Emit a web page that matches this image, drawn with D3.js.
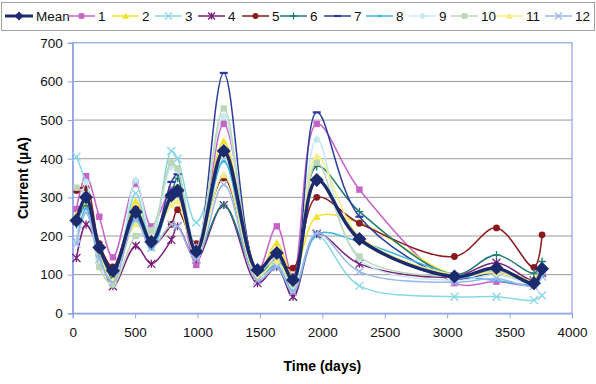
<!DOCTYPE html>
<html>
<head>
<meta charset="utf-8">
<script src="https://cdn.jsdelivr.net/npm/d3@7"></script>
<style>
  body { margin: 0; background: #fff; }
  svg { font-family: "Liberation Sans", Arial, sans-serif; }
</style>
</head>
<body>
<div class="svg-container"></div>
<script>
// measurement days shared by all series
const days = [30, 107, 213, 322, 505, 630, 790, 840, 990, 1210, 1480, 1635, 1765, 1955, 2297, 3058, 3395, 3695, 3760];

const seriesNames = ['Mean', '1', '2', '3', '4', '5', '6', '7', '8', '9', '10', '11', '12'];

const mean = [240, 300, 170, 110, 262, 185, 305, 318, 160, 420, 112, 156, 86, 345, 192, 95, 117, 78, 115];
const s1  = [270, 355, 250, 145, 335, 225, 320, 310, 125, 490, 110, 225, 95, 490, 320, 78, 82, 75, 110];
const s2  = [255, 285, 165, 95, 290, 200, 300, 325, 165, 445, 100, 182, 95, 250, 235, 100, 110, 90, 120];
const s3  = [405, 335, 150, 85, 310, 185, 420, 400, 235, 395, 100, 120, 43, 200, 71, 43, 43, 34, 46];
const s4  = [143, 230, 160, 70, 175, 128, 190, 225, 140, 280, 78, 120, 43, 205, 128, 95, 131, 85, 105];
const s5  = [318, 325, 180, 120, 270, 175, 230, 268, 180, 350, 100, 130, 117, 300, 233, 147, 221, 119, 203];
const s6  = [230, 280, 160, 90, 250, 190, 310, 350, 150, 280, 100, 140, 80, 380, 263, 100, 151, 104, 134];
const s7  = [235, 300, 175, 100, 255, 180, 340, 360, 150, 622, 115, 150, 90, 520, 250, 90, 105, 80, 115];
const s8  = [190, 270, 150, 80, 245, 165, 300, 310, 145, 393, 95, 125, 60, 205, 185, 100, 85, 75, 95];
const s9  = [185, 340, 120, 75, 345, 200, 380, 370, 170, 510, 100, 130, 70, 450, 140, 85, 100, 80, 110];
const s10 = [325, 305, 120, 75, 200, 215, 390, 375, 150, 530, 115, 135, 75, 390, 147, 95, 110, 85, 110];
const s11 = [240, 290, 160, 85, 230, 195, 280, 290, 150, 358, 95, 135, 80, 406, 200, 100, 105, 85, 115];
const s12 = [180, 260, 140, 80, 240, 170, 230, 225, 140, 333, 85, 120, 55, 208, 108, 80, 90, 70, 95];

const yTicks = [0, 100, 200, 300, 400, 500, 600, 700];
const xTicks = [0, 500, 1000, 1500, 2000, 2500, 3000, 3500, 4000];

const allValues = [mean, s1, s2, s3, s4, s5, s6, s7, s8, s9, s10, s11, s12];

// look of each series (Excel 2003 default palette and marker order)
const colours = ['#1c2a6e', '#c862c6', '#eee22a', '#86d8e4', '#7a1f78', '#8a1a1e', '#1f7c74',
  '#2c3c9c', '#3cb4e4', '#c4e8f0', '#bcd6b8', '#f2ee82', '#9ab8ec'];
const markers = ['diamond', 'square', 'triangle', 'x', 'star', 'circle', 'plus',
  'dash', 'bar', 'diamond', 'square', 'triangle', 'x'];

const width = 596;
const height = 384;
const plot = { left: 72.7, right: 572, top: 42.8, bottom: 313.3 };

const svg = d3.select('.svg-container')
  .append('svg')
  .attr('width', width)
  .attr('height', height);

const x = d3.scaleLinear().domain([0, 4000]).range([plot.left, plot.right]);
const y = d3.scaleLinear().domain([0, 700]).range([plot.bottom, plot.top]);

// gridlines
svg.append('g')
  .selectAll('line')
  .data(yTicks.filter(d => d > 0 && d < 700))
  .enter()
  .append('line')
  .attr('x1', plot.left)
  .attr('x2', plot.right)
  .attr('y1', d => y(d))
  .attr('y2', d => y(d))
  .attr('stroke', '#9a9a9a')
  .attr('stroke-width', 1);

// plot area border
svg.append('rect')
  .attr('x', plot.left)
  .attr('y', plot.top)
  .attr('width', plot.right - plot.left)
  .attr('height', plot.bottom - plot.top)
  .attr('fill', 'none')
  .attr('stroke', '#8ea2ea')
  .attr('stroke-width', 1.2);

// axes
const xAxis = svg.append('g')
  .attr('transform', `translate(0,${plot.bottom})`)
  .call(d3.axisBottom(x).tickValues(xTicks).tickSize(5).tickPadding(9).tickFormat(d3.format('d')));

const yAxis = svg.append('g')
  .attr('transform', `translate(${plot.left},0)`)
  .call(d3.axisLeft(y).tickValues(yTicks).tickSize(5).tickPadding(5));

[xAxis, yAxis].forEach(ax => {
  ax.select('.domain').attr('stroke', '#8ea2ea').attr('stroke-width', 1.2);
  ax.selectAll('.tick line').attr('stroke', '#8ea2ea');
  ax.selectAll('.tick text')
    .attr('font-size', 13.5)
    .attr('fill', '#111')
    .attr('font-family', '"Liberation Sans", Arial, sans-serif');
});

// axis titles
svg.append('text')
  .attr('x', (plot.left + plot.right) / 2)
  .attr('y', 371)
  .attr('text-anchor', 'middle')
  .attr('font-size', 14)
  .attr('font-weight', 'bold')
  .text('Time (days)');

svg.append('text')
  .attr('transform', `translate(28,${(plot.top + plot.bottom) / 2}) rotate(-90)`)
  .attr('text-anchor', 'middle')
  .attr('font-size', 14)
  .attr('font-weight', 'bold')
  .text('Current (\u00B5A)');

// marker drawing
function drawMarker(g, type, colour, size) {
  const s = size;
  if (type === 'diamond') {
    g.append('path').attr('d', `M0,${-s}L${s},0L0,${s}L${-s},0Z`).attr('fill', colour);
  } else if (type === 'square') {
    g.append('rect').attr('x', -s * 0.8).attr('y', -s * 0.8).attr('width', s * 1.6).attr('height', s * 1.6).attr('fill', colour);
  } else if (type === 'triangle') {
    g.append('path').attr('d', `M0,${-s}L${s},${s * 0.8}L${-s},${s * 0.8}Z`).attr('fill', colour);
  } else if (type === 'circle') {
    g.append('circle').attr('r', s * 0.85).attr('fill', colour);
  } else if (type === 'x') {
    g.append('path').attr('d', `M${-s},${-s}L${s},${s}M${-s},${s}L${s},${-s}`).attr('stroke', colour).attr('stroke-width', 1.3);
  } else if (type === 'star') {
    g.append('path').attr('d', `M${-s},${-s}L${s},${s}M${-s},${s}L${s},${-s}M0,${-s}L0,${s}`).attr('stroke', colour).attr('stroke-width', 1.3);
  } else if (type === 'plus') {
    g.append('path').attr('d', `M${-s},0L${s},0M0,${-s}L0,${s}`).attr('stroke', colour).attr('stroke-width', 1.3);
  } else if (type === 'dash') {
    g.append('path').attr('d', `M${-s},0L${s},0`).attr('stroke', colour).attr('stroke-width', 2.2);
  } else if (type === 'bar') {
    g.append('path').attr('d', `M${-s * 0.6},0L${s * 0.6},0`).attr('stroke', colour).attr('stroke-width', 2.2);
  }
}

const line = d3.line()
  .x(d => x(d[0]))
  .y(d => y(d[1]))
  .curve(d3.curveCatmullRom.alpha(0.5));

// draw numbered series first, mean on top
const order = d3.range(1, allValues.length).concat([0]);

order.forEach(i => {
  const pts = days.map((d, j) => [d, allValues[i][j]]);
  const isMean = i === 0;
  const g = svg.append('g').attr('class', 'series');

  g.append('path')
    .datum(pts)
    .attr('d', line)
    .attr('fill', 'none')
    .attr('stroke', colours[i])
    .attr('stroke-width', isMean ? 3.4 : 1.5);

  g.selectAll('g.mk')
    .data(pts)
    .enter()
    .append('g')
    .attr('class', 'mk')
    .attr('transform', d => `translate(${x(d[0])},${y(d[1])})`)
    .each(function() { drawMarker(d3.select(this), markers[i], colours[i], isMean ? 7 : 4); });
});

// legend
const legendTextX = [36, 98, 142, 185, 228, 272, 310, 354, 396, 439, 481, 526, 575];

const legend = svg.append('g').attr('id', 'legend');

legend.append('rect')
  .attr('x', 1.5)
  .attr('y', 2.5)
  .attr('width', width - 3)
  .attr('height', 28)
  .attr('fill', '#fff')
  .attr('stroke', '#a0a0a0');

seriesNames.forEach((name, i) => {
  const tx = legendTextX[i];
  const lx1 = i === 0 ? 5 : tx - 30;
  const lx2 = tx - 3;
  const item = legend.append('g');
  item.append('line')
    .attr('x1', lx1).attr('x2', lx2)
    .attr('y1', 16).attr('y2', 16)
    .attr('stroke', colours[i])
    .attr('stroke-width', i === 0 ? 3 : 1.5);
  const mg = item.append('g').attr('transform', `translate(${(lx1 + lx2) / 2},16)`);
  drawMarker(mg, markers[i], colours[i], i === 0 ? 4.5 : 3.5);
  item.append('text')
    .attr('x', tx)
    .attr('y', 21)
    .attr('font-size', 13.5)
    .attr('fill', '#111')
    .text(name);
});
</script>
</body>
</html>
